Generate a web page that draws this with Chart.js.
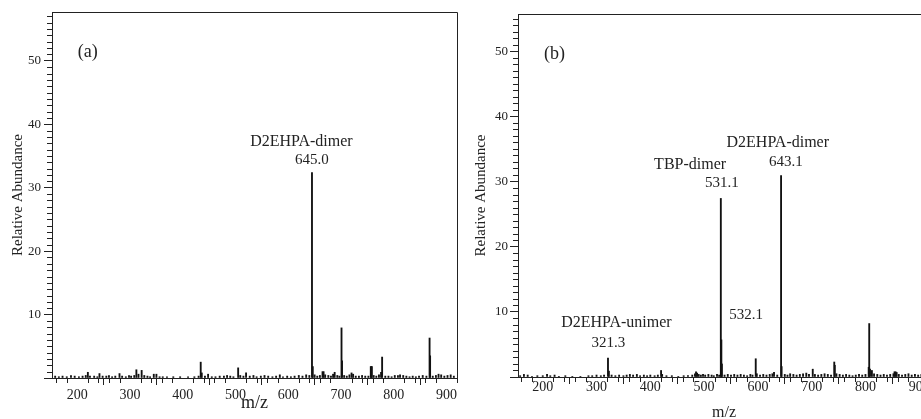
<!DOCTYPE html>
<html>
<head>
<meta charset="utf-8">
<script src="https://cdn.jsdelivr.net/npm/chart.js@4.4.1/dist/chart.umd.min.js"></script>
<style>
  html, body { margin: 0; padding: 0; background: #fff; overflow: hidden; width: 921px; height: 419px; }
  .panel { position: absolute; top: 0; }
</style>
</head>
<body>
<div class="panel" style="left:0"><canvas id="chartA" width="460" height="419"></canvas></div>
<div class="panel" style="left:460px"><canvas id="chartB" width="480" height="419"></canvas></div>
<script>
// (a) spectrum: m/z and relative abundance
const mzA = [158, 165, 172, 180, 188, 195, 203, 210, 216, 220, 224, 232, 238, 242, 248, 255, 260, 266, 272, 280,
  285, 292, 298, 302, 308, 312, 316, 322, 327, 333, 338, 345, 350, 356, 362, 370, 382, 395, 410, 422,
  430, 434, 436, 442, 448, 455, 462, 470, 478, 484, 490, 496, 505, 509, 515, 520, 527, 534, 540, 548,
  555, 562, 570, 577, 584, 590, 598, 605, 612, 620, 627, 634, 640, 645, 646.5, 650, 655, 660, 665, 667,
  670, 676, 681, 685, 688, 693, 697, 701, 702, 706, 711, 716, 720, 723, 728, 734, 740, 746, 752, 756.5,
  757.5, 758.5, 762, 767, 772, 776, 778, 784, 790, 796, 802, 808, 812, 818, 824, 830, 836, 842, 848, 855,
  862, 868, 869, 874, 880, 885, 890, 896, 902, 908, 914];
const abA = [0.3, 0.2, 0.3, 0.2, 0.4, 0.3, 0.2, 0.3, 0.4, 0.9, 0.3, 0.3, 0.2, 0.7, 0.3, 0.3, 0.4, 0.2, 0.3, 0.7,
  0.3, 0.2, 0.4, 0.3, 0.4, 1.3, 0.6, 1.2, 0.4, 0.3, 0.2, 0.6, 0.6, 0.2, 0.2, 0.2, 0.2, 0.2, 0.2, 0.2,
  0.3, 2.5, 0.8, 0.3, 0.6, 0.2, 0.2, 0.3, 0.3, 0.4, 0.3, 0.2, 1.6, 0.4, 0.3, 0.8, 0.3, 0.4, 0.2, 0.3,
  0.4, 0.3, 0.2, 0.3, 0.5, 0.2, 0.3, 0.2, 0.3, 0.4, 0.3, 0.5, 0.4, 32.4, 1.8, 0.5, 0.3, 0.4, 1.0, 1.0,
  0.5, 0.4, 0.3, 0.6, 0.9, 0.4, 0.3, 7.9, 2.7, 0.4, 0.3, 0.5, 0.8, 0.6, 0.3, 0.3, 0.4, 0.3, 0.3, 1.8,
  1.8, 1.8, 0.4, 0.3, 0.5, 0.9, 3.3, 0.3, 0.3, 0.2, 0.4, 0.4, 0.5, 0.4, 0.3, 0.2, 0.3, 0.2, 0.3, 0.4,
  0.3, 6.3, 3.5, 0.3, 0.4, 0.6, 0.5, 0.3, 0.4, 0.5, 0.3];

// (b) spectrum
const mzB = [158, 165, 172, 180, 190, 200, 208, 214, 222, 230, 242, 255, 270, 285, 292, 300, 308, 314, 321.3, 323,
  328, 335, 342, 350, 356, 362, 368, 375, 381, 388, 394, 400, 408, 414, 420, 422, 430, 440, 452, 462,
  470, 478, 483, 485, 487, 490, 494, 498, 502, 508, 514, 518, 524, 528, 531.1, 532.1, 533.1, 538, 544, 550,
  556, 562, 568, 574, 580, 586, 590, 596, 598, 604, 610, 616, 622, 627, 630, 636, 643.1, 644.1, 650, 655,
  660, 666, 672, 678, 684, 690, 695, 702, 706, 712, 718, 724, 730, 736, 742, 743, 746, 752, 758, 764,
  770, 776, 782, 788, 794, 800, 806, 807, 808.5, 812, 816, 822, 828, 834, 840, 846, 852, 854, 856, 858,
  862, 868, 874, 880, 886, 892, 898, 904, 910, 916];
const abB = [0.2, 0.4, 0.3, 0.1, 0.2, 0.2, 0.4, 0.2, 0.3, 0.1, 0.2, 0.1, 0.1, 0.2, 0.2, 0.3, 0.2, 0.3, 2.9, 0.9,
  0.3, 0.2, 0.3, 0.2, 0.3, 0.4, 0.3, 0.4, 0.2, 0.3, 0.2, 0.3, 0.2, 0.3, 1.0, 0.4, 0.2, 0.2, 0.1, 0.2,
  0.2, 0.3, 0.5, 0.8, 0.6, 0.4, 0.3, 0.4, 0.3, 0.4, 0.3, 0.2, 0.4, 0.3, 27.4, 5.7, 2.0, 0.3, 0.4, 0.3,
  0.4, 0.3, 0.4, 0.3, 0.2, 0.4, 0.3, 2.8, 0.5, 0.3, 0.4, 0.3, 0.4, 0.5, 0.7, 0.3, 30.9, 1.6, 0.4, 0.3,
  0.5, 0.4, 0.3, 0.4, 0.5, 0.6, 0.4, 1.2, 0.4, 0.3, 0.4, 0.5, 0.4, 0.3, 2.3, 1.8, 0.5, 0.4, 0.3, 0.4,
  0.3, 0.2, 0.3, 0.4, 0.3, 0.4, 1.5, 8.2, 1.2, 1.0, 0.5, 0.4, 0.3, 0.4, 0.3, 0.4, 0.5, 0.8, 0.8, 0.7,
  0.4, 0.3, 0.4, 0.5, 0.3, 0.4, 0.3, 0.4, 0.3, 0.4];

// peak labels: text, anchor m/z, anchor abundance, font size
const labelsA = [
  ['(a)', 220, 51.4, 18],
  ['D2EHPA-dimer', 625, 37.2, 16],
  ['645.0', 645, 34.4, 15]
];
const labelsB = [
  ['(b)', 222, 49.5, 18],
  ['D2EHPA-dimer', 637, 36.0, 16],
  ['643.1', 652, 33.0, 15],
  ['TBP-dimer', 474, 32.5, 16],
  ['531.1', 533, 29.8, 15],
  ['532.1', 578, 9.5, 15],
  ['D2EHPA-unimer', 337, 8.3, 16],
  ['321.3', 322, 5.2, 15]
];

const INK = '#222';
const SERIF = '"Liberation Serif", "DejaVu Serif", serif';

// minor ticks, frame and peak labels
const decor = {
  id: 'decor',
  afterDraw(chart, args, opts) {
    const { ctx, chartArea: a, scales: { x, y } } = chart;
    ctx.save();
    ctx.strokeStyle = INK;
    ctx.lineWidth = 1;
    ctx.beginPath();
    for (let v = 160; v <= x.max; v += 20) {
      if (v % 100 === 0) continue;
      const px = Math.round(x.getPixelForValue(v)) + 0.5;
      ctx.moveTo(px, a.bottom);
      ctx.lineTo(px, a.bottom + 5);
    }
    for (let v = 1; v <= y.max; v += 1) {
      if (v % 10 === 0) continue;
      const py = Math.round(y.getPixelForValue(v)) + 0.5;
      ctx.moveTo(a.left, py);
      ctx.lineTo(a.left - 5, py);
    }
    // frame top + right
    ctx.moveTo(a.left, Math.round(a.top) + 0.5);
    ctx.lineTo(Math.round(a.right) + 0.5, Math.round(a.top) + 0.5);
    ctx.lineTo(Math.round(a.right) + 0.5, a.bottom);
    ctx.stroke();

    ctx.fillStyle = INK;
    ctx.textAlign = 'center';
    ctx.textBaseline = 'middle';
    opts.labels.forEach(([t, mz, ab, size]) => {
      ctx.font = size + 'px ' + SERIF;
      ctx.fillText(t, x.getPixelForValue(mz), y.getPixelForValue(ab));
    });
    ctx.restore();
  }
};

function makeChart(id, mz, ab, cfg) {
  new Chart(document.getElementById(id), {
    type: 'bar',
    data: {
      datasets: [{
        data: mz.map((m, i) => ({ x: m, y: ab[i] })),
        backgroundColor: '#111',
        barThickness: 1.2,
        grouped: false
      }]
    },
    options: {
      responsive: false,
      animation: false,
      devicePixelRatio: 1,
      layout: { padding: cfg.padding },
      plugins: {
        legend: { display: false },
        tooltip: { enabled: false },
        decor: { labels: cfg.labels }
      },
      scales: {
        x: {
          type: 'linear',
          offset: false,
          min: cfg.xMin,
          max: cfg.xMax,
          afterFit: s => { s.height = cfg.xHeight; },
          border: { color: INK, width: 1 },
          grid: { drawOnChartArea: false, color: INK, tickLength: 7 },
          ticks: {
            stepSize: 100,
            includeBounds: false,
            autoSkip: false,
            maxRotation: 0,
            padding: cfg.xTickPad,
            color: INK,
            font: { family: SERIF, size: 14 }
          },
          title: {
            display: true,
            text: 'm/z',
            color: INK,
            font: { family: SERIF, size: cfg.mzSize },
            padding: { top: 0, bottom: cfg.mzPad }
          }
        },
        y: {
          min: 0,
          max: cfg.yMax,
          afterFit: s => { s.width = cfg.yWidth; },
          border: { color: INK, width: 1 },
          grid: { drawOnChartArea: false, color: INK, tickLength: 8 },
          ticks: {
            stepSize: 10,
            includeBounds: false,
            padding: cfg.yTickPad,
            color: INK,
            font: { family: SERIF, size: 13 },
            callback: v => (v === 0 ? '' : v)
          },
          title: {
            display: true,
            text: 'Relative Abundance',
            color: INK,
            font: { family: SERIF, size: 15 },
            padding: { top: cfg.yTitlePad, bottom: 0 }
          }
        }
      }
    },
    plugins: [decor]
  });
}

makeChart('chartA', mzA, abA, {
  padding: { top: 12, right: 3, left: 0, bottom: 0 },
  xMin: 152, xMax: 920, yMax: 57.7,
  xHeight: 41, yWidth: 52,
  xTickPad: 2, yTickPad: 3,
  mzSize: 18, mzPad: 5, yTitlePad: 9,
  labels: labelsA
});

makeChart('chartB', mzB, abB, {
  padding: { top: 14, right: 10, left: 0, bottom: 0 },
  xMin: 154, xMax: 920, yMax: 55.7,
  xHeight: 42, yWidth: 58,
  xTickPad: -5, yTickPad: 2,
  mzSize: 16, mzPad: -3, yTitlePad: 12,
  labels: labelsB
});
</script>
</body>
</html>
